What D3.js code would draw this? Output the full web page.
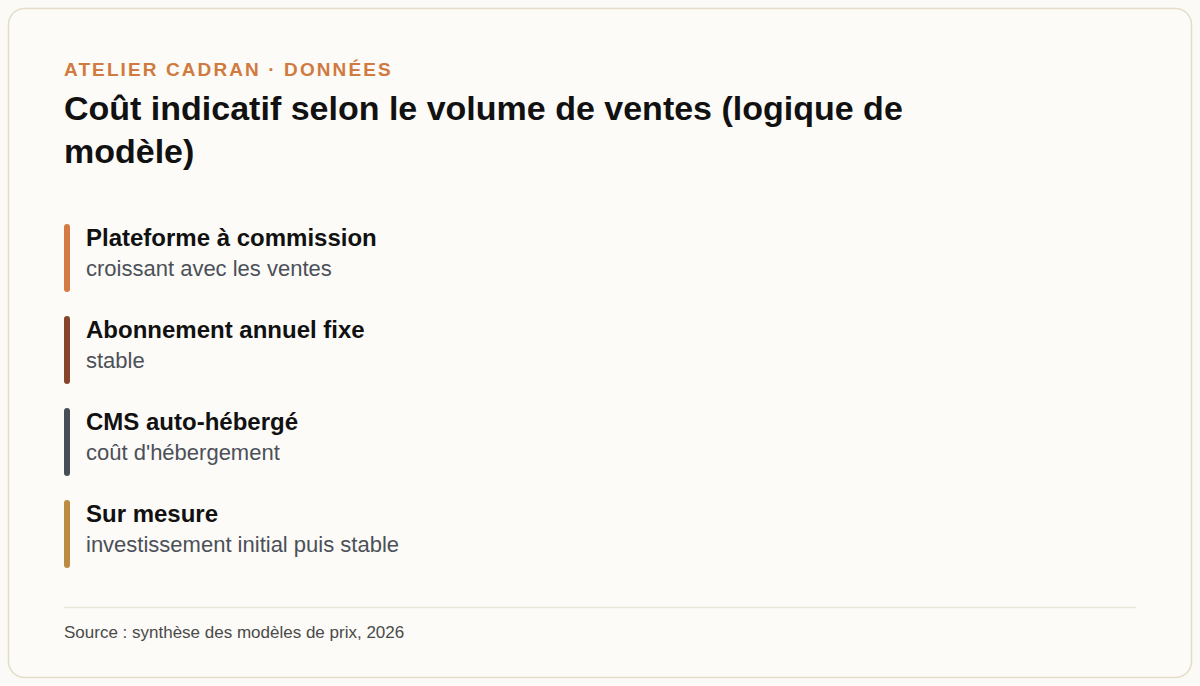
<!DOCTYPE html>
<html lang="fr">
<head>
<meta charset="utf-8">
<script src="https://cdn.jsdelivr.net/npm/d3@7/dist/d3.min.js"></script>
<style>
  html, body { margin: 0; padding: 0; background: #fbfaf6; }
  svg { display: block; font-family: "Liberation Sans", Arial, Helvetica, sans-serif; }
</style>
</head>
<body>
<div id="chart"></div>
<script>
// --- Data ---
const kicker = "ATELIER CADRAN · DONNÉES";
const title = "Coût indicatif selon le volume de ventes (logique de modèle)";
const seriesNames = ["Plateforme à commission", "Abonnement annuel fixe", "CMS auto-hébergé", "Sur mesure"];
const seriesNotes = ["croissant avec les ventes", "stable", "coût d'hébergement", "investissement initial puis stable"];
const seriesColors = ["#d47b43", "#86452a", "#474e56", "#bb8a43"];
const source = "Source : synthèse des modèles de prix, 2026";

const W = 1200, H = 686;

const svg = d3.select("#chart").append("svg")
    .attr("width", W)
    .attr("height", H);

// card
svg.append("rect")
    .attr("x", 8.5).attr("y", 8.5)
    .attr("width", W - 17).attr("height", H - 17)
    .attr("rx", 16)
    .attr("fill", "#fcfbf7")
    .attr("stroke", "#e4dcc8")
    .attr("stroke-width", 1.5);

// kicker
svg.append("text")
    .attr("x", 64).attr("y", 76)
    .attr("font-size", 19)
    .attr("font-weight", 700)
    .attr("letter-spacing", 2.1)
    .attr("fill", "#d07a40")
    .text(kicker);

// title, wrapped
const titleText = svg.append("text")
    .attr("x", 64).attr("y", 120)
    .attr("font-size", 34)
    .attr("font-weight", 700)
    .attr("fill", "#111111");

function wrap(textSel, str, maxWidth, lineHeight) {
    const words = str.split(" ");
    let line = [];
    let tspan = textSel.append("tspan").attr("x", 64).attr("dy", 0);
    words.forEach(w => {
        line.push(w);
        tspan.text(line.join(" "));
        if (tspan.node().getComputedTextLength() > maxWidth && line.length > 1) {
            line.pop();
            tspan.text(line.join(" "));
            line = [w];
            tspan = textSel.append("tspan").attr("x", 64).attr("dy", lineHeight).text(w);
        }
    });
}
wrap(titleText, title, 920, 43);

// legend
const yScale = d3.scaleBand()
    .domain(seriesNames)
    .range([224, 592])
    .paddingInner(0);

const items = svg.selectAll(".item")
    .data(seriesNames)
    .enter()
    .append("g")
    .attr("class", "item")
    .attr("transform", d => `translate(64,${yScale(d)})`);

items.append("rect")
    .attr("x", 0).attr("y", 0)
    .attr("width", 6)
    .attr("height", 68)
    .attr("rx", 3)
    .attr("fill", (d, i) => seriesColors[i]);

items.append("text")
    .attr("x", 22).attr("y", 22)
    .attr("font-size", 24)
    .attr("font-weight", 700)
    .attr("fill", "#111111")
    .text(d => d);

items.append("text")
    .attr("x", 22).attr("y", 52)
    .attr("font-size", 22)
    .attr("fill", "#4b5058")
    .text((d, i) => seriesNotes[i]);

// divider + source
svg.append("line")
    .attr("x1", 64).attr("x2", 1136)
    .attr("y1", 607.5).attr("y2", 607.5)
    .attr("stroke", "#e9e5db")
    .attr("stroke-width", 1.5);

svg.append("text")
    .attr("x", 64).attr("y", 638)
    .attr("font-size", 17)
    .attr("fill", "#4a4a4a")
    .text(source);
</script>
</body>
</html>
